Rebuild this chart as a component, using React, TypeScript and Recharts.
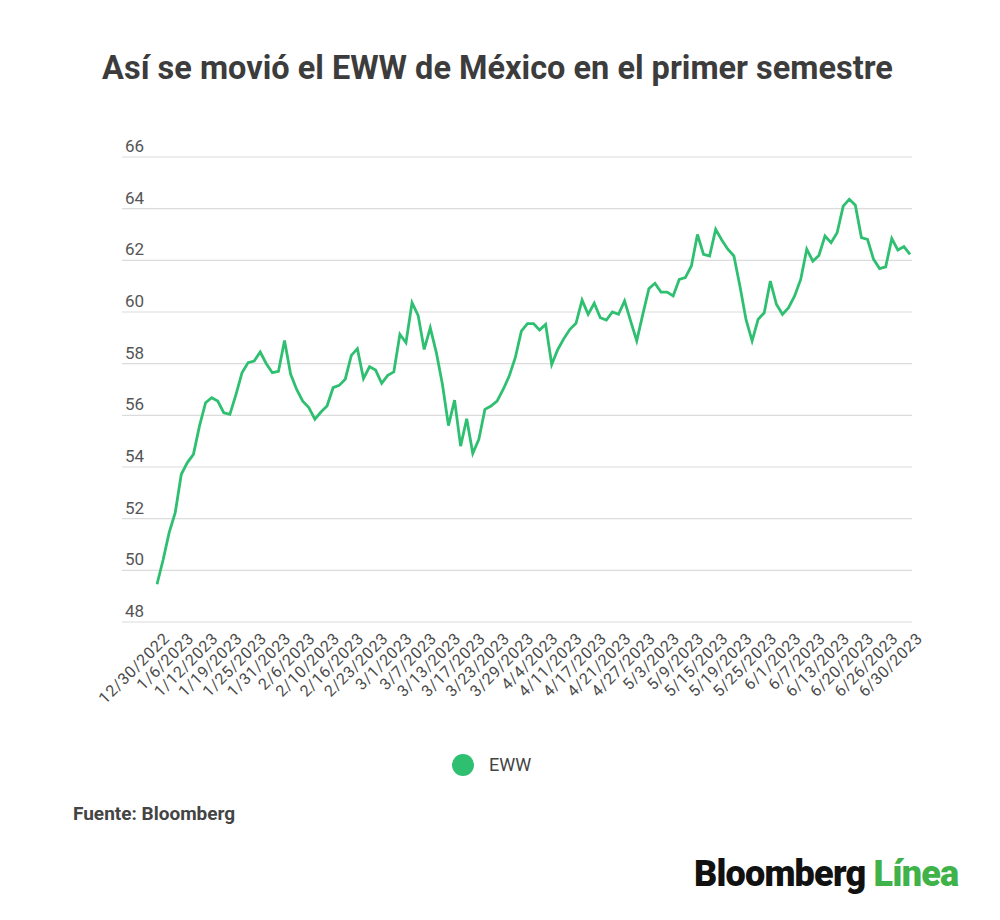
import { LineChart, Line, XAxis, YAxis, CartesianGrid } from 'recharts'

// trading days, 12/30/2022 to 6/30/2023
const dates = [
  '12/30/2022',
  '1/3/2023', '1/4/2023', '1/5/2023', '1/6/2023', '1/9/2023', '1/10/2023', '1/11/2023', '1/12/2023', '1/13/2023',
  '1/17/2023', '1/18/2023', '1/19/2023', '1/20/2023', '1/23/2023', '1/24/2023', '1/25/2023', '1/26/2023', '1/27/2023',
  '1/30/2023', '1/31/2023',
  '2/1/2023', '2/2/2023', '2/3/2023', '2/6/2023', '2/7/2023', '2/8/2023', '2/9/2023', '2/10/2023', '2/13/2023',
  '2/14/2023', '2/15/2023', '2/16/2023', '2/17/2023', '2/21/2023', '2/22/2023', '2/23/2023', '2/24/2023', '2/27/2023',
  '2/28/2023',
  '3/1/2023', '3/2/2023', '3/3/2023', '3/6/2023', '3/7/2023', '3/8/2023', '3/9/2023', '3/10/2023', '3/13/2023',
  '3/14/2023', '3/15/2023', '3/16/2023', '3/17/2023', '3/20/2023', '3/21/2023', '3/22/2023', '3/23/2023', '3/24/2023',
  '3/27/2023', '3/28/2023', '3/29/2023', '3/30/2023', '3/31/2023',
  '4/3/2023', '4/4/2023', '4/5/2023', '4/6/2023', '4/10/2023', '4/11/2023', '4/12/2023', '4/13/2023', '4/14/2023',
  '4/17/2023', '4/18/2023', '4/19/2023', '4/20/2023', '4/21/2023', '4/24/2023', '4/25/2023', '4/26/2023', '4/27/2023',
  '4/28/2023',
  '5/1/2023', '5/2/2023', '5/3/2023', '5/4/2023', '5/5/2023', '5/8/2023', '5/9/2023', '5/10/2023', '5/11/2023',
  '5/12/2023', '5/15/2023', '5/16/2023', '5/17/2023', '5/18/2023', '5/19/2023', '5/22/2023', '5/23/2023', '5/24/2023',
  '5/25/2023', '5/26/2023', '5/30/2023', '5/31/2023',
  '6/1/2023', '6/2/2023', '6/5/2023', '6/6/2023', '6/7/2023', '6/8/2023', '6/9/2023', '6/12/2023', '6/13/2023',
  '6/14/2023', '6/15/2023', '6/16/2023', '6/20/2023', '6/21/2023', '6/22/2023', '6/23/2023', '6/26/2023', '6/27/2023',
  '6/28/2023', '6/29/2023', '6/30/2023',
]

const eww = [
  49.46, 50.4, 51.46, 52.23, 53.72, 54.17, 54.49, 55.59, 56.49, 56.68,
  56.55, 56.1, 56.04, 56.8, 57.65, 58.04, 58.1, 58.45, 58.0, 57.65,
  57.7, 58.9, 57.6, 57.0, 56.55, 56.3, 55.85, 56.13, 56.36, 57.07,
  57.16, 57.4, 58.32, 58.58, 57.42, 57.88, 57.75, 57.24, 57.55, 57.68,
  59.14, 58.81, 60.36, 59.87, 58.55, 59.39, 58.43, 57.2, 55.6, 56.59,
  54.81, 55.87, 54.53, 55.07, 56.23, 56.36, 56.55, 57.0, 57.52, 58.23,
  59.26, 59.55, 59.55, 59.3, 59.52, 57.97, 58.55, 58.97, 59.33, 59.56,
  60.46, 59.91, 60.34, 59.78, 59.69, 60.0, 59.91, 60.43, 59.65, 58.88,
  59.91, 60.9, 61.11, 60.77, 60.77, 60.62, 61.26, 61.33, 61.78, 63.0,
  62.23, 62.17, 63.2, 62.79, 62.43, 62.17, 61.0, 59.7, 58.88, 59.72,
  59.97, 61.2, 60.3, 59.91, 60.17, 60.62, 61.26, 62.43, 61.97, 62.19,
  62.94, 62.68, 63.07, 64.1, 64.36, 64.13, 62.88, 62.81, 62.04, 61.68,
  61.75, 62.84, 62.4, 62.53, 62.23,
]

// every 4th trading day gets a label
const xTicks = [
  '12/30/2022', '1/6/2023', '1/12/2023', '1/19/2023', '1/25/2023', '1/31/2023', '2/6/2023', '2/10/2023',
  '2/16/2023', '2/23/2023', '3/1/2023', '3/7/2023', '3/13/2023', '3/17/2023', '3/23/2023', '3/29/2023',
  '4/4/2023', '4/11/2023', '4/17/2023', '4/21/2023', '4/27/2023', '5/3/2023', '5/9/2023', '5/15/2023',
  '5/19/2023', '5/25/2023', '6/1/2023', '6/7/2023', '6/13/2023', '6/20/2023', '6/26/2023', '6/30/2023',
]
const yTicks = [48, 50, 52, 54, 56, 58, 60, 62, 64, 66]

const GREEN = '#2fbf71'
const FONT = 'Roboto, "Noto Sans", sans-serif'

const data = dates.map((date, i) => ({ date, value: eww[i] }))

function XTick({ x, y, payload }: any) {
  return (
    <g transform={`translate(${x + 5},${y + 1})`}>
      <text
        textAnchor="end"
        transform="rotate(-45)"
        fontSize={16}
        letterSpacing={0.7}
        fill="#4a4a4a"
        fontFamily={FONT}
        dy="0.75em"
      >
        {payload.value}
      </text>
    </g>
  )
}

function YTick({ y, payload }: any) {
  return (
    <text x={125} y={y - 5} fontSize={17} fill="#555" fontFamily={FONT}>
      {payload.value}
    </text>
  )
}

export default function App() {
  return (
    <div
      style={{
        position: 'absolute',
        left: 0,
        top: 0,
        width: 1000,
        height: 920,
        background: '#fff',
        fontFamily: FONT,
      }}
    >
      <div
        style={{
          position: 'absolute',
          top: 48,
          left: 0,
          width: 995,
          textAlign: 'center',
          fontSize: 32.5,
          fontWeight: 700,
          color: '#3c3c3c',
          lineHeight: '40px',
        }}
      >
        Así se movió el EWW de México en el primer semestre
      </div>

      <div style={{ position: 'absolute', top: 0, left: 0 }}>
        <LineChart
          width={1000}
          height={740}
          data={data}
          margin={{ top: 157, right: 88, bottom: 0, left: 82 }}
        >
          <CartesianGrid vertical={false} stroke="#dcdcdc" strokeWidth={1.2} />
          <XAxis
            dataKey="date"
            ticks={xTicks}
            interval={0}
            axisLine={false}
            tickLine={false}
            height={118}
            padding={{ left: 35, right: 2 }}
            tick={<XTick />}
          />
          <YAxis
            width={40}
            domain={[48, 66]}
            ticks={yTicks}
            interval={0}
            axisLine={false}
            tickLine={false}
            tick={<YTick />}
          />
          <Line
            type="linear"
            dataKey="value"
            name="EWW"
            stroke={GREEN}
            strokeWidth={2.8}
            dot={false}
            isAnimationActive={false}
          />
        </LineChart>
      </div>

      <div
        style={{
          position: 'absolute',
          top: 753,
          left: 452,
          display: 'flex',
          alignItems: 'center',
          gap: 15,
          fontSize: 18,
          color: '#444',
          lineHeight: '24px',
        }}
      >
        <span
          style={{ width: 22, height: 22, borderRadius: '50%', background: GREEN, display: 'inline-block' }}
        />
        <span>EWW</span>
      </div>

      <div
        style={{
          position: 'absolute',
          top: 802,
          left: 73,
          fontSize: 19,
          fontWeight: 700,
          color: '#444',
        }}
      >
        Fuente: Bloomberg
      </div>

      <div
        style={{
          position: 'absolute',
          top: 853,
          left: 694,
          fontSize: 36,
          fontWeight: 900,
          letterSpacing: -0.8,
          color: '#111',
        }}
      >
        Bloomberg <span style={{ color: '#3fb24a' }}>Línea</span>
      </div>
    </div>
  )
}
